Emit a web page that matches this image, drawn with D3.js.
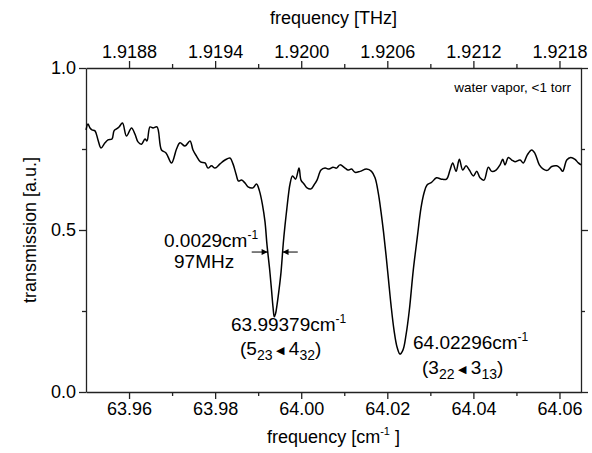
<html lang="en">
<head>
  <meta charset="UTF-8">
  <title>water vapor transmission</title>
  <script src="https://cdn.jsdelivr.net/npm/d3@7"></script>
  <style>
    body { margin: 0; background: #fff; }
    text { font-family: "Liberation Sans", Arial, sans-serif; fill: #000; }
  </style>
</head>
<body>
  <svg width="592" height="453"></svg>

  <script>
    // spectrum
    const freq = [63.95000, 63.95046, 63.95093, 63.95139, 63.95209, 63.95279, 63.95349, 63.95441, 63.95511, 63.95604,
      63.95651, 63.95709, 63.95767, 63.95848, 63.95941, 63.96057, 63.96138, 63.96208, 63.96289, 63.96371,
      63.96417, 63.96487, 63.96557, 63.96650, 63.96754, 63.96859, 63.96987, 63.97103, 63.97184, 63.97300,
      63.97416, 63.97486, 63.97567, 63.97660, 63.97765, 63.97835, 63.97916, 63.97997, 63.98113, 63.98230,
      63.98346, 63.98415, 63.98485, 63.98543, 63.98613, 63.98694, 63.98764, 63.98880, 63.98961, 63.99031,
      63.99101, 63.99159, 63.99205, 63.99263, 63.99310, 63.99345, 63.99375, 63.99403, 63.99438, 63.99484,
      63.99531, 63.99584, 63.99624, 63.99663, 63.99705, 63.99740, 63.99798, 63.99868, 63.99949, 63.99995,
      64.00065, 64.00135, 64.00228, 64.00297, 64.00367, 64.00460, 64.00553, 64.00646, 64.00739, 64.00820,
      64.00901, 64.01018, 64.01087, 64.01169, 64.01250, 64.01366, 64.01517, 64.01633, 64.01715, 64.01791,
      64.01854, 64.01912, 64.01970, 64.02028, 64.02086, 64.02156, 64.02226, 64.02295, 64.02365, 64.02435,
      64.02512, 64.02604, 64.02697, 64.02783, 64.02853, 64.02923, 64.03027, 64.03144, 64.03260, 64.03376,
      64.03457, 64.03520, 64.03597, 64.03673, 64.03752, 64.03829, 64.03906, 64.03999, 64.04078, 64.04154,
      64.04247, 64.04347, 64.04426, 64.04526, 64.04619, 64.04682, 64.04735, 64.04812, 64.04891, 64.04967,
      64.05084, 64.05160, 64.05253, 64.05355, 64.05432, 64.05532, 64.05625, 64.05718, 64.05820, 64.05936,
      64.06013, 64.06076, 64.06169, 64.06262, 64.06361, 64.06438, 64.06501];
    const trans = [0.809, 0.827, 0.815, 0.809, 0.806, 0.778, 0.753, 0.769, 0.778, 0.781,
      0.806, 0.812, 0.818, 0.830, 0.790, 0.815, 0.796, 0.772, 0.765, 0.781,
      0.775, 0.818, 0.815, 0.818, 0.747, 0.738, 0.707, 0.750, 0.769, 0.759,
      0.775, 0.747, 0.728, 0.710, 0.707, 0.691, 0.698, 0.691, 0.704, 0.716,
      0.722, 0.704, 0.673, 0.651, 0.654, 0.645, 0.633, 0.630, 0.642, 0.620,
      0.577, 0.525, 0.454, 0.383, 0.315, 0.262, 0.232, 0.241, 0.269, 0.315,
      0.370, 0.460, 0.515, 0.562, 0.611, 0.642, 0.667, 0.657, 0.691, 0.654,
      0.642, 0.630, 0.627, 0.639, 0.654, 0.685, 0.691, 0.688, 0.694, 0.691,
      0.701, 0.691, 0.685, 0.688, 0.678, 0.681, 0.688, 0.681, 0.661, 0.614,
      0.556, 0.494, 0.423, 0.346, 0.269, 0.191, 0.139, 0.117, 0.130, 0.176,
      0.253, 0.377, 0.478, 0.568, 0.614, 0.639, 0.647, 0.661, 0.657, 0.657,
      0.685, 0.707, 0.681, 0.718, 0.685, 0.698, 0.685, 0.667, 0.681, 0.661,
      0.654, 0.694, 0.681, 0.685, 0.701, 0.718, 0.701, 0.724, 0.716, 0.711,
      0.716, 0.707, 0.732, 0.747, 0.736, 0.701, 0.688, 0.684, 0.696, 0.698,
      0.691, 0.681, 0.716, 0.724, 0.718, 0.707, 0.701];

    // axis ticks
    const cmTicks = [63.96, 63.98, 64.00, 64.02, 64.04, 64.06];
    const cmMinor = [63.97, 63.99, 64.01, 64.03, 64.05];
    const thzTicks = [1.9188, 1.9194, 1.9200, 1.9206, 1.9212, 1.9218];
    const thzMinor = [1.9191, 1.9197, 1.9203, 1.9209, 1.9215, 1.9221];
    const yTicks = [0, 0.5, 1.0];
    const yMinor = [0.25, 0.75];

    const svg = d3.select("svg");
    const pLeft = 86, pRight = 581, pTop = 68, pBottom = 392;

    const x = d3.scaleLinear().domain([63.95, 64.065]).range([pLeft, pRight]);
    // top scale in THz, same pixels
    const xT = d3.scaleLinear().domain([1.9185, 1.9185 + 0.115 * 0.03]).range([pLeft, pRight]);
    const y = d3.scaleLinear().domain([0, 1]).range([pBottom, pTop]);

    // axes
    function axis(a, tx, ty, ticks, minor, fmt) {
      const g = svg.append("g").attr("transform", `translate(${tx},${ty})`);
      g.call(a.tickValues(ticks).tickSize(7).tickSizeOuter(0).tickPadding(3).tickFormat(fmt));
      const m = svg.append("g").attr("transform", `translate(${tx},${ty})`);
      m.call(a.tickValues(minor).tickSize(4).tickSizeOuter(0).tickFormat(""));
      m.select(".domain").remove();
      [g, m].forEach(s => {
        s.selectAll("path,line").attr("stroke", "#222").attr("stroke-width", 1.3);
        s.selectAll("text").attr("font-size", 18).attr("font-family", null);
      });
      return g;
    }
    axis(d3.axisBottom(x), 0, pBottom, cmTicks, cmMinor, d3.format(".2f"));
    axis(d3.axisTop(xT), 0, pTop, thzTicks, thzMinor, d3.format(".4f"));
    axis(d3.axisLeft(y), pLeft, 0, yTicks, yMinor, d3.format(".1f"));
    axis(d3.axisRight(y), pRight, 0, yTicks, yMinor, "");

    // the spectrum
    const line = d3.line()
      .x(i => x(freq[i]))
      .y(i => y(trans[i]))
      .curve(d3.curveCatmullRom.alpha(0.5));

    svg.append("path")
      .attr("d", line(d3.range(freq.length)))
      .attr("fill", "none")
      .attr("stroke", "#000")
      .attr("stroke-width", 1.5);

    // text with sub / superscripts: parts = [text, offset, size]
    function rich(xv, yv, parts, size, anchor) {
      const t = svg.append("text")
        .attr("x", x(xv)).attr("y", y(yv))
        .attr("font-size", size)
        .attr("text-anchor", anchor || "start");
      let shift = 0;
      parts.forEach(p => {
        const s = p[1] || 0;
        t.append("tspan").attr("dy", s - shift).attr("font-size", p[2] || size).text(p[0]);
        shift = s;
      });
      return t;
    }

    // titles
    svg.append("text").attr("x", (pLeft + pRight) / 2).attr("y", 24)
      .attr("text-anchor", "middle").attr("font-size", 18).text("frequency [THz]");
    const bt = svg.append("text").attr("x", (pLeft + pRight) / 2).attr("y", 443)
      .attr("text-anchor", "middle").attr("font-size", 18);
    bt.append("tspan").text("frequency [cm");
    bt.append("tspan").attr("dy", -8).attr("font-size", 11).text("-1");
    bt.append("tspan").attr("dy", 8).text(" ]");
    svg.append("text")
      .attr("transform", `translate(36,${(pTop + pBottom) / 2}) rotate(-90)`)
      .attr("text-anchor", "middle").attr("font-size", 18).text("transmission [a.u.]");

    // annotations
    rich(64.06268, 0.925, [["water vapor, <1 torr"]], 13.5, "end");
    rich(63.96812, 0.4475, [["0.0029cm"], ["-1", -8, 12]], 19);
    rich(63.97045, 0.3827, [["97MHz"]], 19);
    rich(63.98369, 0.1883, [["63.99379cm"], ["-1", -8, 12]], 19);
    rich(63.98578, 0.1142, [["(5"], ["23", 5, 14], [" \u25C0", -1, 11], [" 4"], ["32", 5, 14], [")"]], 19);
    rich(64.02598, 0.1327, [["64.02296cm"], ["-1", -8, 12]], 19);
    rich(64.02807, 0.0556, [["(3"], ["22", 5, 14], [" \u25C0", -1, 11], [" 3"], ["13", 5, 14], [")"]], 19);

    // FWHM arrows
    const defs = svg.append("defs");
    defs.append("marker").attr("id", "head")
      .attr("viewBox", "0 0 10 10").attr("refX", 10).attr("refY", 5)
      .attr("markerWidth", 7).attr("markerHeight", 6).attr("markerUnits", "userSpaceOnUse")
      .attr("orient", "auto")
      .append("path").attr("d", "M0,0L10,5L0,10Z").attr("fill", "#000");
    const arrows = [[63.9885, 63.9922], [63.9992, 63.99567]];
    arrows.forEach(a => {
      svg.append("line")
        .attr("x1", x(a[0])).attr("x2", x(a[1]))
        .attr("y1", y(0.432)).attr("y2", y(0.432))
        .attr("stroke", "#000").attr("stroke-width", 1)
        .attr("marker-end", "url(#head)");
    });
  </script>
</body>
</html>
